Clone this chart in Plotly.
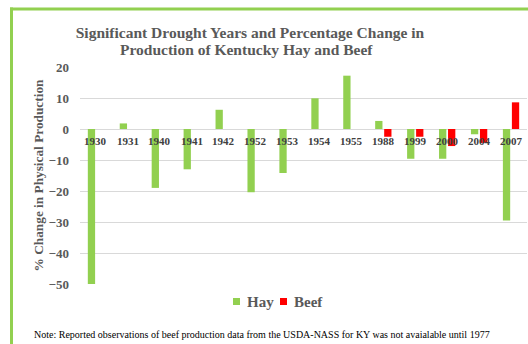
import plotly.graph_objects as go

years = ["1930", "1931", "1940", "1941", "1942", "1952", "1953", "1954", "1955",
         "1988", "1999", "2000", "2004", "2007"]
hay = [-50, 1.8, -19, -13, 6.2, -20.4, -14.2, 9.9, 17.2, 2.6, -9.6, -9.6, -1.7, -29.5]
beef = [None, None, None, None, None, None, None, None, None, -2.5, -2.5, -5.5, -4.5, 8.6]
y_ticks = [20, 10, 0, -10, -20, -30, -40, -50]
series_names = ["Hay", "Beef"]
title_lines = ["Significant Drought Years and Percentage Change in",
               "Production of Kentucky Hay and Beef"]

GREEN = "#92D050"
RED = "#FF0000"
GRAY = "#595959"
SERIF = "Liberation Serif"

fig = go.Figure()
fig.add_trace(go.Bar(x=years, y=hay, name=series_names[0], showlegend=False,
                     marker=dict(color=GREEN, line=dict(width=0))))
fig.add_trace(go.Bar(x=years, y=beef, name=series_names[1], showlegend=False,
                     marker=dict(color=RED, line=dict(width=0))))

# category labels drawn next to the zero line
for i, yr in enumerate(years):
    fig.add_annotation(x=i, y=0, xref="x", yref="y", text="<b>" + yr + "</b>", showarrow=False,
                       yanchor="top", yshift=-4,
                       font=dict(family=SERIF, size=11, color="#404040"))

W, H = 528, 344
L, R, T, B = 80, 1, 67, 60
pw, ph = W - L - R, H - T - B

def px_x(px):
    return (px - L) / pw

def px_y(py):
    return (H - B - py) / ph

# green frame (top and left edges)
fig.add_shape(type="line", xref="paper", yref="paper",
              x0=px_x(11.5), x1=px_x(11.5), y0=px_y(7.5), y1=px_y(400),
              line=dict(color=GREEN, width=3))
fig.add_shape(type="line", xref="paper", yref="paper",
              x0=px_x(10), x1=px_x(600), y0=px_y(9), y1=px_y(9),
              line=dict(color=GREEN, width=3))

# legend (swatch + label)
legend_items = [(series_names[0], GREEN, 233, 245), (series_names[1], RED, 280, 292)]
for name, col, sx, tx in legend_items:
    fig.add_shape(type="rect", xref="paper", yref="paper",
                  x0=px_x(sx), x1=px_x(sx + 7), y0=px_y(298), y1=px_y(305),
                  fillcolor=col, line=dict(width=0))
    fig.add_annotation(xref="paper", yref="paper", x=px_x(tx), y=px_y(302),
                       xanchor="left", yanchor="middle", showarrow=False,
                       text="<b>" + name + "</b>",
                       font=dict(family=SERIF, size=15, color=GRAY))

# title lines
fig.add_annotation(xref="paper", yref="paper", x=px_x(246), y=px_y(49.5),
                   xanchor="center", yanchor="middle", showarrow=False,
                   text="<b>" + title_lines[1] + "</b>",
                   font=dict(family=SERIF, size=15.5, color=GRAY))

fig.add_annotation(xref="paper", yref="paper", x=px_x(32), y=px_y(334),
                   xanchor="left", yanchor="middle", showarrow=False,
                   text="Note: Reported observations of beef production data from the USDA-NASS for KY was not avaialable until 1977",
                   font=dict(family=SERIF, size=10, color="#000000"))

fig.update_layout(
    width=W, height=H,
    margin=dict(l=L, r=R, t=T, b=B, pad=0),
    paper_bgcolor="white", plot_bgcolor="white",
    barmode="group", bargap=0.436, bargroupgap=0.19,
    title=dict(text="<b>" + title_lines[0] + "</b>",
               x=px_x(250), xref="paper", xanchor="center",
               y=1 - 33 / H, yref="container", yanchor="middle",
               font=dict(family=SERIF, size=15.5, color=GRAY)),
    showlegend=False,
    xaxis=dict(type="category", categoryorder="array", categoryarray=years,
               range=[-0.5, len(years) - 0.5], showticklabels=False, showgrid=False,
               zeroline=False, showline=False, ticks=""),
    yaxis=dict(range=[-50, 20], tickvals=y_ticks, showgrid=True, gridcolor="#D9D9D9", gridwidth=1,
               zeroline=True, zerolinecolor="#D9D9D9", zerolinewidth=1, showline=False,
               ticks="", ticklabelstandoff=10,
               tickfont=dict(family=SERIF, size=13, color=GRAY, weight="bold"),
               title=dict(text="<b>% Change in Physical Production</b>", standoff=1,
                          font=dict(family=SERIF, size=13.3, color=GRAY))),
)

fig.write_html("out.html")
